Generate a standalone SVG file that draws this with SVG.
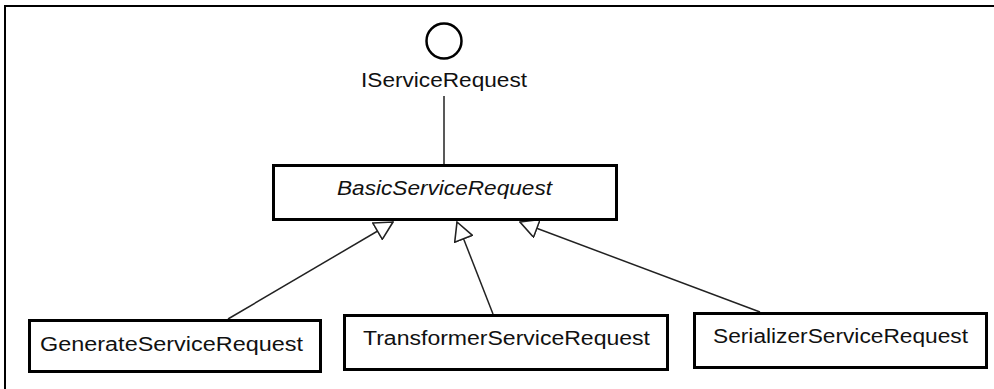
<svg xmlns="http://www.w3.org/2000/svg" width="994" height="389" viewBox="0 0 994 389">
<style>
.box{fill:#fff;stroke:#000;stroke-width:3}
.t{font-family:"Liberation Sans",Arial,sans-serif;font-size:20px;fill:#111}
.c{stroke:#222;stroke-width:1.5;fill:none}
</style>
<defs>
<marker id="gen" viewBox="0 0 20 20" refX="19" refY="10" markerWidth="20" markerHeight="20" markerUnits="userSpaceOnUse" orient="auto">
<path d="M1,0.5 L19,10 L1,19.5 Z" fill="#fff" stroke="#222" stroke-width="1.6"/>
</marker>
</defs>
<rect x="0" y="0" width="994" height="389" fill="#fff"/>
<path d="M5,389 L5,6 L994,6" fill="none" stroke="#000" stroke-width="2"/>
<g id="connectors">
<line class="c" x1="444" y1="96" x2="444" y2="164"/>
<line class="c" x1="228" y1="319" x2="393" y2="222" marker-end="url(#gen)"/>
<line class="c" x1="493" y1="314" x2="457" y2="222" marker-end="url(#gen)"/>
<line class="c" x1="760" y1="312" x2="520" y2="222" marker-end="url(#gen)"/>
</g>
<g id="IServiceRequest">
<circle cx="444" cy="41" r="17.5" fill="#fff" stroke="#000" stroke-width="2.5"/>
<text class="t" x="361" y="87" textLength="166" lengthAdjust="spacingAndGlyphs">IServiceRequest</text>
</g>
<g id="BasicServiceRequest">
<rect class="box" x="273.5" y="165.5" width="343" height="54"/>
<text class="t" x="337" y="195" font-style="italic" textLength="215" lengthAdjust="spacingAndGlyphs">BasicServiceRequest</text>
</g>
<g id="GenerateServiceRequest">
<rect class="box" x="29.5" y="320.5" width="291" height="51"/>
<text class="t" x="40" y="351" textLength="263" lengthAdjust="spacingAndGlyphs">GenerateServiceRequest</text>
</g>
<g id="TransformerServiceRequest">
<rect class="box" x="344.5" y="315.5" width="323" height="54"/>
<text class="t" x="363" y="345" textLength="287" lengthAdjust="spacingAndGlyphs">TransformerServiceRequest</text>
</g>
<g id="SerializerServiceRequest">
<rect class="box" x="694.5" y="313.5" width="292" height="54"/>
<text class="t" x="713" y="343" textLength="255" lengthAdjust="spacingAndGlyphs">SerializerServiceRequest</text>
</g>
</svg>
